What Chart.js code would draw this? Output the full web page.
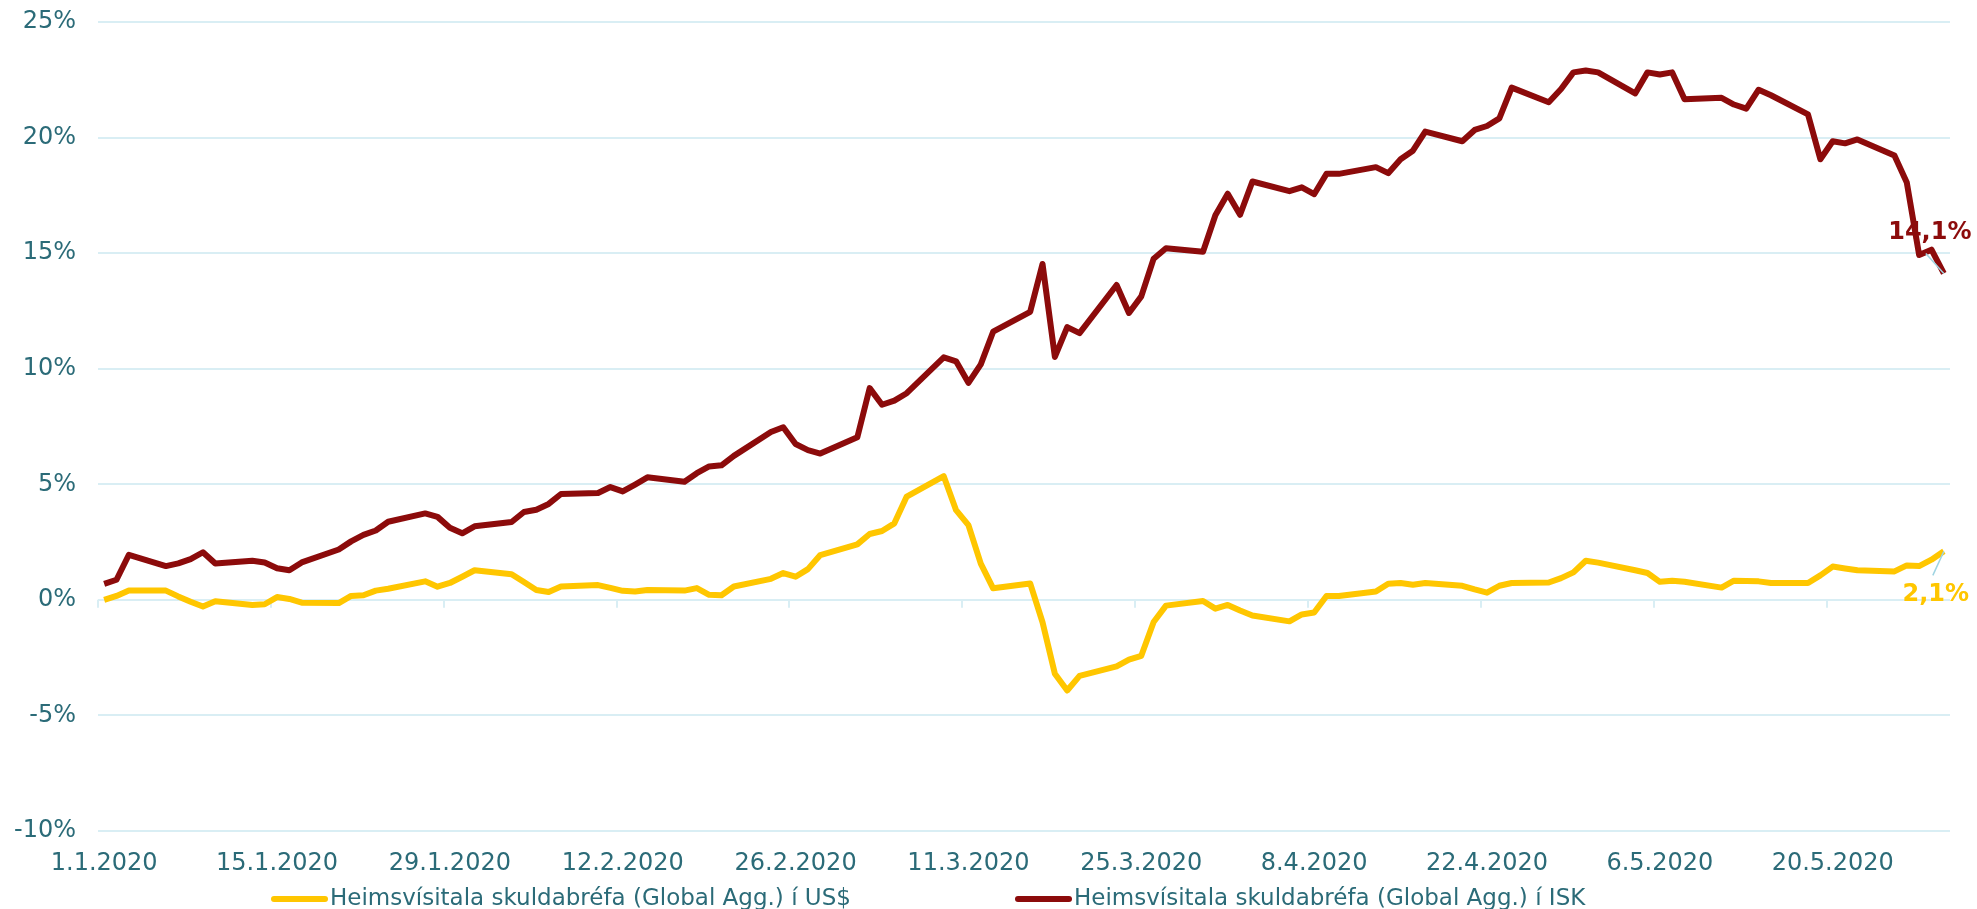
<!DOCTYPE html>
<html>
<head>
<meta charset="utf-8">
<script src="https://cdn.jsdelivr.net/npm/chart.js@4/dist/chart.umd.min.js"></script>
<style>
  html, body { margin: 0; padding: 0; background: #fff; }
  #wrap { width: 1977px; height: 909px; }
</style>
</head>
<body>
<div id="wrap"><canvas id="chart"></canvas></div>
<script>
// business days in 2020 (d.m)
let dates = [
    '1.1','2.1','3.1','6.1','7.1','8.1','9.1','10.1','13.1','14.1','15.1','16.1','17.1','20.1','21.1','22.1','23.1','24.1','27.1','28.1','29.1','30.1','31.1',
    '3.2','4.2','5.2','6.2','7.2','10.2','11.2','12.2','13.2','14.2','17.2','18.2','19.2','20.2','21.2','24.2','25.2','26.2','27.2','28.2',
    '2.3','3.3','4.3','5.3','6.3','9.3','10.3','11.3','12.3','13.3','16.3','17.3','18.3','19.3','20.3','23.3','24.3','25.3','26.3','27.3','30.3','31.3',
    '1.4','2.4','3.4','6.4','7.4','8.4','9.4','10.4','13.4','14.4','15.4','16.4','17.4','20.4','21.4','22.4','23.4','24.4','27.4','28.4','29.4','30.4',
    '1.5','4.5','5.5','6.5','7.5','8.5','11.5','12.5','13.5','14.5','15.5','18.5','19.5','20.5','21.5','22.5','25.5','26.5','27.5','28.5','29.5'
];

// Global Agg. in US$, % since start of year
let usd = [
    0.00,0.17,0.40,0.40,0.15,-0.08,-0.29,-0.06,-0.22,-0.19,0.12,0.04,-0.12,-0.14,0.17,0.20,0.40,0.48,0.80,0.57,0.73,1.00,1.28,
    1.11,0.77,0.43,0.34,0.58,0.64,0.52,0.39,0.36,0.43,0.40,0.51,0.22,0.20,0.58,0.91,1.16,1.00,1.33,1.94,
    2.40,2.85,2.98,3.31,4.47,5.35,3.88,3.23,1.57,0.50,0.71,-0.97,-3.20,-3.92,-3.29,-2.88,-2.59,-2.42,-0.96,-0.25,-0.05,-0.38,
    -0.22,-0.46,-0.68,-0.93,-0.63,-0.55,0.17,0.17,0.36,0.70,0.73,0.65,0.73,0.61,0.45,0.31,0.61,0.73,0.75,0.94,1.19,1.69,
    1.61,1.28,1.16,0.78,0.83,0.78,0.53,0.83,0.82,0.80,0.73,0.73,1.06,1.44,1.36,1.28,1.23,1.49,1.46,1.74,2.10
];

// Global Agg. in ISK
let isk = [
    0.69,0.87,1.95,1.46,1.58,1.76,2.06,1.57,1.69,1.62,1.37,1.28,1.62,2.18,2.53,2.81,3.00,3.38,3.74,3.59,3.12,2.88,3.18,
    3.37,3.80,3.90,4.15,4.58,4.62,4.88,4.69,4.99,5.30,5.11,5.48,5.77,5.82,6.23,7.26,7.47,6.74,6.48,6.33,
    7.03,9.16,8.44,8.62,8.94,10.49,10.32,9.39,10.19,11.60,12.46,14.53,10.51,11.80,11.54,13.62,12.41,13.13,14.76,15.21,15.06,16.64,
    17.57,16.66,18.10,17.68,17.85,17.55,18.43,18.43,18.72,18.46,19.06,19.43,20.26,19.84,20.33,20.50,20.83,22.16,21.53,22.10,22.82,22.90,
    22.82,21.91,22.82,22.73,22.82,21.66,21.72,21.43,21.25,22.07,21.83,21.00,19.06,19.84,19.75,19.92,19.22,18.06,14.92,15.15,14.12
];

let tickLabels = ['1.1.2020','15.1.2020','29.1.2020','12.2.2020','26.2.2020','11.3.2020','25.3.2020','8.4.2020','22.4.2020','6.5.2020','20.5.2020'];
let seriesNames = ['Heimsvísitala skuldabréfa (Global Agg.) í US$', 'Heimsvísitala skuldabréfa (Global Agg.) í ISK'];

const GOLD = '#ffc600';
const RED = '#8c0b0b';
const TEAL = '#2b6b78';
const GRID = '#d9eef4';
const FONT = "'DejaVu Sans', Verdana, sans-serif";

// days since 1.1.2020
let dayIndex = str => {
    let p = str.split('.');
    return (Date.UTC(2020, +p[1] - 1, +p[0]) - Date.UTC(2020, 0, 1)) / 86400000;
}
let days = dates.map(dayIndex);
let tickDays = tickLabels.map(dayIndex);

let pct = v => v.toFixed(1).replace('.', ',') + '%';

let extras = {
    id: 'extras',
    beforeDatasetsDraw(chart) {
        let { ctx, scales: { x, y } } = chart;
        let y0 = y.getPixelForValue(0);
        ctx.save();
        ctx.strokeStyle = GRID;
        ctx.lineWidth = 2;
        tickDays.forEach(d => {
            let px = Math.round(x.getPixelForValue(d - 0.5));
            ctx.beginPath();
            ctx.moveTo(px, y0);
            ctx.lineTo(px, y0 + 8);
            ctx.stroke();
        });
        ctx.restore();
    },
    afterDraw(chart) {
        let ctx = chart.ctx;
        ctx.save();

        // end value labels
        let offsets = [
            { lx: -8, ly: 43, ax: -11, ay: 24 },
            { lx: -14, ly: -41, ax: -18, ay: -20 }
        ];
        chart.data.datasets.forEach((ds, i) => {
            let pts = chart.getDatasetMeta(i).data;
            let pt = pts[pts.length - 1];
            let o = offsets[i];
            ctx.strokeStyle = '#9fd4e2';
            ctx.lineWidth = 1.5;
            ctx.beginPath();
            ctx.moveTo(pt.x + o.ax, pt.y + o.ay);
            ctx.lineTo(pt.x, pt.y);
            ctx.stroke();
            ctx.fillStyle = ds.borderColor;
            ctx.font = 'bold 24px ' + FONT;
            ctx.textAlign = 'center';
            ctx.textBaseline = 'middle';
            ctx.fillText(pct(ds.data[ds.data.length - 1].y), pt.x + o.lx, pt.y + o.ly);
        });

        // legend
        let legendX = [271, 1015];
        let ly = 899;
        chart.data.datasets.forEach((ds, i) => {
            ctx.strokeStyle = ds.borderColor;
            ctx.lineWidth = 6;
            ctx.lineCap = 'round';
            ctx.beginPath();
            ctx.moveTo(legendX[i] + 3, ly);
            ctx.lineTo(legendX[i] + 54, ly);
            ctx.stroke();
            ctx.fillStyle = TEAL;
            ctx.font = '23px ' + FONT;
            ctx.textAlign = 'left';
            ctx.textBaseline = 'middle';
            ctx.fillText(ds.label, legendX[i] + 59, ly);
        });
        ctx.restore();
    }
};

Chart.defaults.font.family = FONT;
Chart.defaults.font.size = 24;
Chart.defaults.color = TEAL;

let makeSet = (label, values, color) => ({
    label: label,
    data: values.map((v, i) => ({ x: days[i], y: v })),
    borderColor: color,
    backgroundColor: color,
    borderWidth: 6,
    pointRadius: 0,
    tension: 0,
    borderJoinStyle: 'round'
});

new Chart(document.getElementById('chart'), {
    type: 'line',
    data: {
        datasets: [
            makeSet(seriesNames[0], usd, GOLD),
            makeSet(seriesNames[1], isk, RED)
        ]
    },
    options: {
        responsive: true,
        maintainAspectRatio: false,
        animation: false,
        layout: { padding: { top: 22, right: 27, bottom: 30, left: 0 } },
        plugins: {
            legend: { display: false },
            tooltip: { enabled: false }
        },
        scales: {
            x: {
                type: 'linear',
                min: -0.5,
                max: 149.5,
                grid: { display: false, drawTicks: false },
                border: { display: false },
                afterBuildTicks: scale => {
                    scale.ticks = tickDays.map(v => ({ value: v }));
                },
                ticks: {
                    autoSkip: false,
                    maxRotation: 0,
                    padding: 18,
                    callback: value => tickLabels[tickDays.indexOf(value)]
                },
                afterFit: scale => { scale.height = 48; }
            },
            y: {
                min: -10,
                max: 25,
                ticks: {
                    stepSize: 5,
                    padding: 22,
                    callback: value => value + '%'
                },
                grid: { color: GRID, lineWidth: 2, drawTicks: false },
                border: { display: false },
                afterFit: scale => {
                    scale.width = 98;
                    // keep the top gridline close to the canvas edge
                    scale.paddingTop = 14;
                    scale.paddingBottom = 14;
                }
            }
        }
    },
    plugins: [extras]
});
</script>
</body>
</html>
